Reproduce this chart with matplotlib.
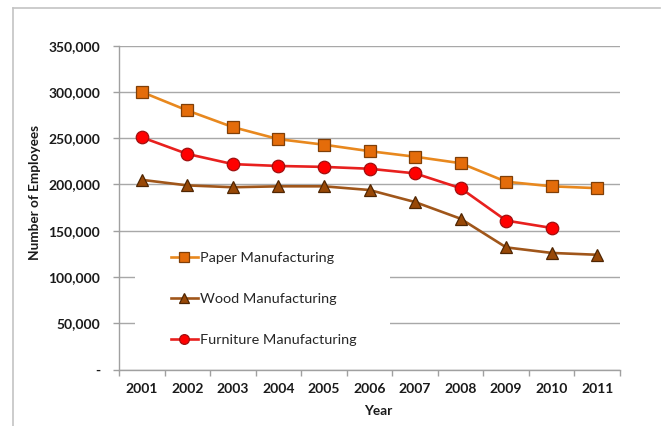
import matplotlib
matplotlib.use("Agg")
import matplotlib.pyplot as plt
from matplotlib.lines import Line2D
from matplotlib.patches import Rectangle
from matplotlib.ticker import FuncFormatter

years = ["2001", "2002", "2003", "2004", "2005", "2006",
         "2007", "2008", "2009", "2010", "2011"]
paper = [300000, 280000, 262000, 249000, 243000, 236000,
         230000, 223000, 203000, 198000, 196000]
wood = [205000, 199000, 197000, 198000, 198000, 194000,
        181000, 163000, 132000, 126000, 124000]
furniture = [251000, 233000, 222000, 220000, 219000, 217000,
             212000, 196000, 161000, 153000]
y_ticks = [0, 50000, 100000, 150000, 200000, 250000, 300000, 350000]

W, H = 663, 426
fig = plt.figure(figsize=(W / 100, H / 100), dpi=100)
font = "Lato"

# chart frame (top and left edges)
fig.add_artist(Line2D([13 / W, 13 / W], [0, 1 - 8 / H], color="#c4c4c4", lw=1.2))
fig.add_artist(Line2D([13 / W, 660 / W], [1 - 8 / H, 1 - 8 / H], color="#c4c4c4", lw=1.2))

left, right, top, bottom = 119, 620, 45.7, 369.5
aw, ah = right - left, bottom - top
ax = fig.add_axes([left / W, 1 - bottom / H, aw / W, ah / H])

x = list(range(1, len(years) + 1))
ax.plot(x, paper, color="#E8881E", lw=1.9, marker="s", ms=8.5,
        mfc="#E46C0A", mec="#7F3F08", mew=0.9, label="Paper Manufacturing", zorder=3)
ax.plot(x, wood, color="#A0561A", lw=1.9, marker="^", ms=9,
        mfc="#984807", mec="#4F2603", mew=0.9, label="Wood Manufacturing", zorder=3)
ax.plot(x[:len(furniture)], furniture, color="#E8201E", lw=1.9, marker="o", ms=9,
        mfc="#FF0000", mec="#A01010", mew=0.9, label="Furniture Manufacturing", zorder=4)

ax.set_xlim(0.5, len(years) + 0.5)
ax.set_ylim(0, 350000)
ax.set_yticks(y_ticks)
ax.yaxis.set_major_formatter(FuncFormatter(lambda v, p: "-" if v == 0 else f"{int(v):,}"))
ax.set_xticks(x)
ax.set_xticklabels(years)
ax.set_xticks([i + 0.5 for i in range(0, len(years) + 1)], minor=True)
ax.tick_params(axis="x", which="major", length=0, pad=10)
ax.tick_params(axis="x", which="minor", length=4, color="#a0a0a0", width=1)
ax.tick_params(axis="y", length=4.3, color="#a0a0a0", width=1, pad=9.4)
for lab in ax.get_xticklabels() + ax.get_yticklabels():
    lab.set_fontfamily(font)
    lab.set_fontweight("bold")
    lab.set_fontsize(10)
    lab.set_color("#1a1a1a")

ax.grid(axis="y", color="#a8a8a8", lw=1)
ax.set_axisbelow(True)
for s in ["top", "right"]:
    ax.spines[s].set_visible(False)
for s in ["left", "bottom"]:
    ax.spines[s].set_color("#a0a0a0")
    ax.spines[s].set_linewidth(1)

fig.text(35 / W, 1 - 192 / H, "Number of Employees", rotation=90, ha="center", va="center",
         fontfamily=font, fontweight="bold", fontsize=9.8, color="#1a1a1a")
fig.text(378 / W, 1 - 411 / H, "Year", ha="center", va="center",
         fontfamily=font, fontweight="bold", fontsize=9.8, color="#1a1a1a")

# white legend area that hides the gridlines behind it
ax.add_patch(Rectangle(((135 - left) / aw, (bottom - 354) / ah), (390 - 135) / aw, 114 / ah,
                       transform=ax.transAxes, facecolor="white", edgecolor="none", zorder=1))

leg = ax.legend(loc="upper left", bbox_to_anchor=((171 - left) / aw, (bottom - 251.5) / ah),
                frameon=False, borderaxespad=0, borderpad=0, markerscale=0.78,
                handlelength=1.85, handletextpad=0.15, labelspacing=2.02,
                prop={"family": font, "size": 10.4})
for t in leg.get_texts():
    t.set_color("#262626")

fig.savefig("out.png", dpi=100)
